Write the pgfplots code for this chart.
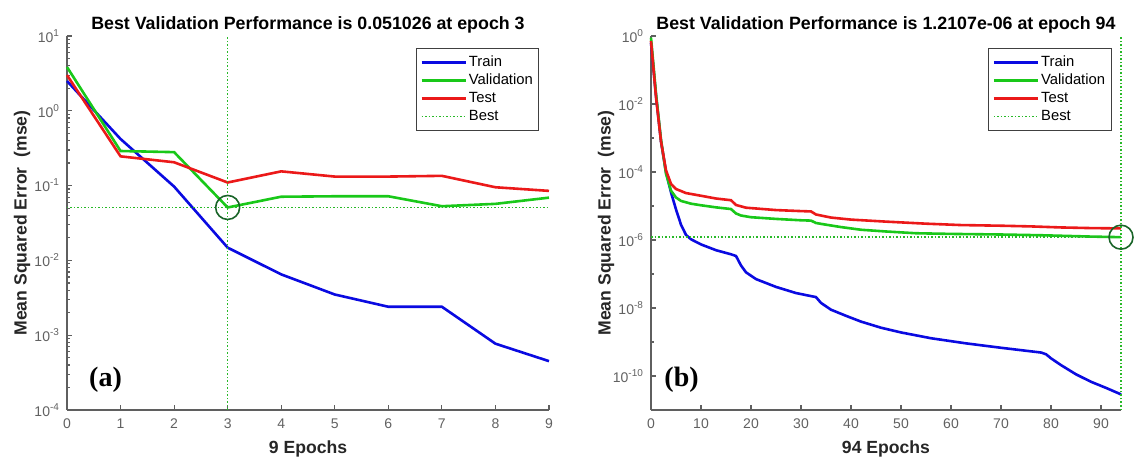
\documentclass[border=0pt]{standalone}
\usepackage{fontspec}
\setmainfont{Liberation Sans}
\newfontfamily\serifface{Liberation Serif}
\usepackage{pgfplots}
\pgfplotsset{compat=1.18}

\definecolor{mtrain}{RGB}{10,10,225}
\definecolor{mval}{RGB}{25,200,25}
\definecolor{mtest}{RGB}{235,25,25}
\definecolor{mbest}{RGB}{40,185,40}
\definecolor{mcirc}{RGB}{25,100,40}
\definecolor{maxis}{RGB}{95,95,95}

\tikzset{
  trainline/.style={mtrain, line width=1.3pt},
  valline/.style={mval, line width=1.3pt},
  testline/.style={mtest, line width=1.3pt},
  bestline/.style={mbest, line width=0.75pt, densely dotted},
}

\pgfplotsset{
  every axis/.append style={
    scale only axis, height=187pt, clip=false,
    axis x line*=bottom, axis y line*=left,
    axis line style={maxis, line width=0.6pt, -},
    tick align=inside, tick style={maxis, line width=0.6pt},
    major tick length=2.4pt, minor tick length=1.3pt,
    tick label style={font=\fontsize{7}{8}\selectfont, text=black!62,
      /pgf/number format/assume math mode=true},
    xticklabel style={yshift=-1pt},
    title style={font=\bfseries\fontsize{8.9}{10.5}\selectfont, at={(0.5,1)}, anchor=center, yshift=-0.5pt},
    label style={font=\bfseries\fontsize{8.8}{10}\selectfont, text=black!85},
    xlabel style={at={([yshift=-19.5pt]rel axis cs:0.5,0)}, anchor=center},
    ylabel style={at={([xshift=-22.5pt]rel axis cs:0,0.5)}, anchor=center},
    legend style={font=\fontsize{7.4}{8.5}\selectfont, draw=black!75, line width=0.5pt,
      at={(0.98,0.968)}, anchor=north east, inner xsep=2pt, inner ysep=2.5pt,
      row sep=0pt, nodes={inner sep=1pt, text height=5.6pt, text depth=1.4pt}},
    legend cell align=left,
  },
  legend image code/.code={\draw[#1] (0pt,0pt) -- (22pt,0pt);},
}

\begin{document}
\begin{tikzpicture}
\path[use as bounding box] (-33.5pt,-24.5pt) rectangle (534pt,205pt);

% (a) 9 epochs
\begin{axis}[at={(0pt,0pt)}, width=241pt, ymode=log,
  xmin=0, xmax=9, ymin=1e-4, ymax=10,
  xtick={0,1,...,9},
  ytick={1e-4,1e-3,1e-2,1e-1,1,10},
  yticklabels={\mbox{10\textsuperscript{-4}},\mbox{10\textsuperscript{-3}},\mbox{10\textsuperscript{-2}},\mbox{10\textsuperscript{-1}},\mbox{10\textsuperscript{0}},\mbox{10\textsuperscript{1}}},
  minor ytick={2e-4,3e-4,4e-4,5e-4,6e-4,7e-4,8e-4,9e-4,
    2e-3,3e-3,4e-3,5e-3,6e-3,7e-3,8e-3,9e-3,
    2e-2,3e-2,4e-2,5e-2,6e-2,7e-2,8e-2,9e-2,
    0.2,0.3,0.4,0.5,0.6,0.7,0.8,0.9,2,3,4,5,6,7,8,9},
  title={Best Validation Performance is 0.051026 at epoch 3},
  xlabel={9 Epochs},
  ylabel={Mean Squared Error\ \ (mse)},
]
\addplot[trainline] coordinates {(0,2.5) (1,0.42) (2,0.097) (3,0.0148) (4,0.0065) (5,0.0035) (6,0.0024) (7,0.0024) (8,0.00077) (9,0.00045)};
\addlegendentry{Train}
\addplot[valline] coordinates {(0,3.85) (1,0.29) (2,0.28) (3,0.051026) (4,0.071) (5,0.072) (6,0.072) (7,0.053) (8,0.057) (9,0.069)};
\addlegendentry{Validation}
\addplot[testline] coordinates {(0,3.0) (1,0.246) (2,0.205) (3,0.11) (4,0.155) (5,0.132) (6,0.132) (7,0.135) (8,0.095) (9,0.085)};
\addlegendentry{Test}
\addplot[bestline] coordinates {(0,0.051026) (9,0.051026)};
\addlegendentry{Best}
\addplot[bestline, forget plot] coordinates {(3,1e-4) (3,10)};
\addplot[mcirc, only marks, mark=o, mark size=6pt, mark options={line width=0.8pt}, forget plot] coordinates {(3,0.051026)};
\node[font=\serifface\bfseries\fontsize{14}{16}\selectfont] at (rel axis cs:0.08,0.08) {(a)};
\end{axis}

% (b) 94 epochs
\begin{axis}[at={(292pt,0pt)}, width=235pt, ymode=log,
  xmin=0, xmax=94, ymin=1e-11, ymax=1,
  xtick={0,10,...,90},
  ytick={1e-10,1e-8,1e-6,1e-4,1e-2,1},
  yticklabels={\mbox{10\textsuperscript{-10}},\mbox{10\textsuperscript{-8}},\mbox{10\textsuperscript{-6}},\mbox{10\textsuperscript{-4}},\mbox{10\textsuperscript{-2}},\mbox{10\textsuperscript{0}}},
  minor ytick={1e-11,1e-9,1e-7,1e-5,1e-3,1e-1},
  title={Best Validation Performance is 1.2107e-06 at epoch 94},
  xlabel={94 Epochs},
  ylabel={Mean Squared Error\ \ (mse)},
]
\addplot[trainline] coordinates {(0,0.631) (1,0.0178) (2,7.94e-4) (3,1.0e-4) (4,2.51e-5) (5,7.94e-6) (6,2.82e-6) (7,1.41e-6) (8,1.05e-6) (10,7.41e-7) (13,5.01e-7) (16,3.80e-7) (17,3.39e-7) (18,1.78e-7) (19,1.12e-7) (21,7.08e-8) (25,4.17e-8) (29,2.75e-8) (32,2.24e-8) (33,2.09e-8) (34,1.41e-8) (36,8.91e-9) (39,5.89e-9) (42,3.98e-9) (46,2.63e-9) (50,1.91e-9) (56,1.29e-9) (63,9.12e-10) (70,6.76e-10) (78,4.90e-10) (79,4.37e-10) (80,3.31e-10) (82,2.09e-10) (85,1.12e-10) (88,6.76e-11) (91,4.47e-11) (94,2.88e-11)};
\addlegendentry{Train}
\addplot[valline] coordinates {(0,0.891) (1,0.0200) (2,8.91e-4) (3,8.91e-5) (4,2.82e-5) (5,1.78e-5) (6,1.41e-5) (8,1.17e-5) (10,1.05e-5) (13,9.12e-6) (16,8.13e-6) (17,6.03e-6) (18,5.25e-6) (20,4.68e-6) (25,4.17e-6) (30,3.80e-6) (32,3.72e-6) (33,3.16e-6) (35,2.82e-6) (38,2.40e-6) (42,2.00e-6) (47,1.78e-6) (53,1.58e-6) (60,1.51e-6) (70,1.45e-6) (78,1.38e-6) (83,1.32e-6) (88,1.26e-6) (94,1.2107e-6)};
\addlegendentry{Validation}
\addplot[testline] coordinates {(0,0.708) (1,0.0158) (2,7.94e-4) (3,1.12e-4) (4,4.47e-5) (5,3.16e-5) (7,2.40e-5) (10,2.00e-5) (13,1.66e-5) (16,1.48e-5) (17,1.07e-5) (19,8.91e-6) (25,7.59e-6) (30,7.08e-6) (32,6.92e-6) (33,5.62e-6) (36,4.57e-6) (40,3.98e-6) (47,3.47e-6) (55,3.02e-6) (62,2.75e-6) (70,2.63e-6) (76,2.51e-6) (82,2.34e-6) (88,2.24e-6) (94,2.19e-6)};
\addlegendentry{Test}
\addplot[bestline] coordinates {(0,1.2107e-6) (94,1.2107e-6)};
\addlegendentry{Best}
\addplot[bestline, forget plot] coordinates {(94,1e-11) (94,1)};
\addplot[mcirc, only marks, mark=o, mark size=6pt, mark options={line width=0.8pt}, forget plot] coordinates {(94,1.2107e-6)};
\node[font=\serifface\bfseries\fontsize{14}{16}\selectfont] at (rel axis cs:0.065,0.08) {(b)};
\end{axis}
\end{tikzpicture}
\end{document}
